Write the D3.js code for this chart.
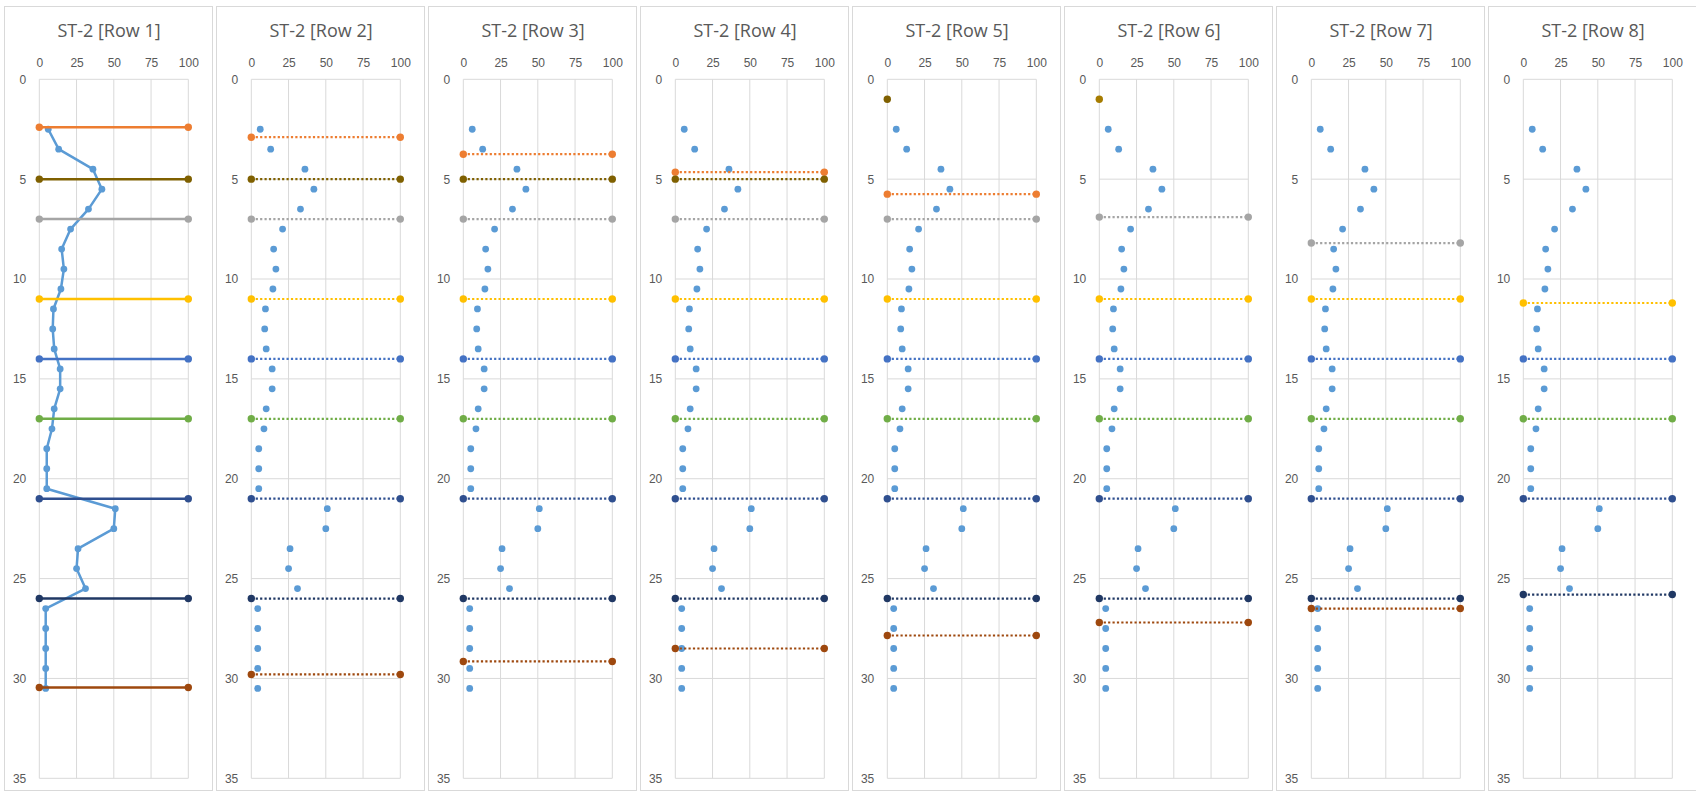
<!DOCTYPE html>
<html>
<head>
<meta charset="utf-8">
<script src="https://cdn.jsdelivr.net/npm/d3@7"></script>
<style>
  body { margin: 0; background: #fff; }
  svg { display: block; font-family: "Open Sans", "Liberation Sans", sans-serif; }
  .tick text { fill: #595959; font-size: 12px; }
  .title { fill: #595959; font-size: 18px; }
</style>
</head>
<body>
<script>
// panels
const titles = ["ST-2 [Row 1]", "ST-2 [Row 2]", "ST-2 [Row 3]", "ST-2 [Row 4]",
                "ST-2 [Row 5]", "ST-2 [Row 6]", "ST-2 [Row 7]", "ST-2 [Row 8]"];
const xTicks = [0, 25, 50, 75, 100];
const yTicks = [0, 5, 10, 15, 20, 25, 30, 35];

// measured profile (same in every panel)
const depths = [2.5, 3.5, 4.5, 5.5, 6.5, 7.5, 8.5, 9.5, 10.5, 11.5, 12.5, 13.5, 14.5, 15.5,
                16.5, 17.5, 18.5, 19.5, 20.5, 21.5, 22.5, 23.5, 24.5, 25.5, 26.5, 27.5, 28.5, 29.5, 30.5];
const values = [6, 13, 36, 42, 33, 21, 15, 16.5, 14.5, 9.5, 9, 10, 14, 14,
                10, 8.5, 5, 5, 5, 51, 50, 26, 25, 31, 4.3, 4.3, 4.3, 4.3, 4.3];

// layer boundaries, depth per panel (null = not shown)
const orangeDepth   = [2.4, 2.9, 3.75, 4.65, 5.75, null, null, null];
const oliveDepth    = [5, 5, 5, 5, null, null, null, null];
const olivePoint    = [null, null, null, null, 1, 1, null, null];
const grayDepth     = [7, 7, 7, 7, 7, 6.9, 8.2, null];
const yellowDepth   = [11, 11, 11, 11, 11, 11, 11, 11.2];
const blueDepth     = [14, 14, 14, 14, 14, 14, 14, 14];
const greenDepth    = [17, 17, 17, 17, 17, 17, 17, 17];
const darkBlueDepth = [21, 21, 21, 21, 21, 21, 21, 21];
const brownDepth    = [30.45, 29.8, 29.15, 28.5, 27.85, 27.2, 26.5, null];
const navyDepth     = [26, 26, 26, 26, 26, 26, 26, 25.8];

const layers = [
  {depth: orangeDepth, color: "#ED7D31"},
  {depth: oliveDepth, color: "#7F6000"},
  {depth: grayDepth, color: "#A5A5A5"},
  {depth: yellowDepth, color: "#FFC000"},
  {depth: blueDepth, color: "#4472C4"},
  {depth: greenDepth, color: "#70AD47"},
  {depth: darkBlueDepth, color: "#2F4F8F"},
  {depth: brownDepth, color: "#9E480E"},
  {depth: navyDepth, color: "#203864"}
];

var width = 1696, height = 794;
var step = 212;
var svg = d3.select("body").append("svg")
    .attr("width", width)
    .attr("height", height);

var x = d3.scaleLinear().domain([0, 100]).range([39.3, 188.3]);
var y = d3.scaleLinear().domain([0, 35]).range([79.3, 778.3]);

titles.forEach(function(title, i) {
    var g = svg.append("g").attr("transform", "translate(" + (i * step) + ",0)");

    // panel frame
    g.append("rect")
        .attr("x", 4.5).attr("y", 6.5)
        .attr("width", 208).attr("height", 784)
        .attr("fill", "#fff")
        .attr("stroke", "#d9d9d9");

    g.append("text")
        .attr("class", "title")
        .attr("x", 109).attr("y", 37)
        .attr("text-anchor", "middle")
        .text(title);

    // grid
    g.selectAll(".vgrid").data(xTicks).enter().append("line")
        .attr("x1", d => x(d)).attr("x2", d => x(d))
        .attr("y1", y(0)).attr("y2", y(35))
        .attr("stroke", "#d9d9d9").attr("stroke-width", 1);
    g.selectAll(".hgrid").data(yTicks).enter().append("line")
        .attr("x1", x(0)).attr("x2", x(100))
        .attr("y1", d => y(d)).attr("y2", d => y(d))
        .attr("stroke", "#d9d9d9").attr("stroke-width", 1);

    // axes
    var top = g.append("g").attr("transform", "translate(0," + y(0) + ")")
        .call(d3.axisTop(x).tickValues(xTicks).tickSize(0).tickPadding(12));
    top.select(".domain").remove();
    var left = g.append("g").attr("transform", "translate(" + x(0) + ",0)")
        .call(d3.axisLeft(y).tickValues(yTicks).tickSize(0).tickPadding(13));
    left.select(".domain").remove();

    // profile
    var pts = depths.map((d, k) => [values[k], d]);
    if (i === 0) {
        g.append("path")
            .datum(pts)
            .attr("fill", "none")
            .attr("stroke", "#5B9BD5")
            .attr("stroke-width", 2.5)
            .attr("stroke-linejoin", "round")
            .attr("d", d3.line().x(d => x(d[0])).y(d => y(d[1])));
    }
    g.selectAll(".pt").data(pts).enter().append("circle")
        .attr("cx", d => x(d[0])).attr("cy", d => y(d[1]))
        .attr("r", 3.4)
        .attr("fill", "#5B9BD5");

    // layer boundaries
    layers.forEach(function(L) {
        var dep = L.depth[i];
        if (dep == null) return;
        var line = g.append("line")
            .attr("x1", x(0)).attr("x2", x(100))
            .attr("y1", y(dep)).attr("y2", y(dep))
            .attr("stroke", L.color);
        if (i === 0) {
            line.attr("stroke-width", 2.5);
        } else {
            line.attr("stroke-width", 2.2).attr("stroke-dasharray", "2.2,2.2");
        }
        g.selectAll(null).data([0, 100]).enter().append("circle")
            .attr("cx", d => x(d)).attr("cy", y(dep))
            .attr("r", 3.7)
            .attr("fill", L.color);
    });

    if (olivePoint[i] != null) {
        g.append("circle")
            .attr("cx", x(0)).attr("cy", y(olivePoint[i]))
            .attr("r", 3.7)
            .attr("fill", i === 5 ? "#A67C00" : "#7F6000");
    }
});
</script>
</body>
</html>
